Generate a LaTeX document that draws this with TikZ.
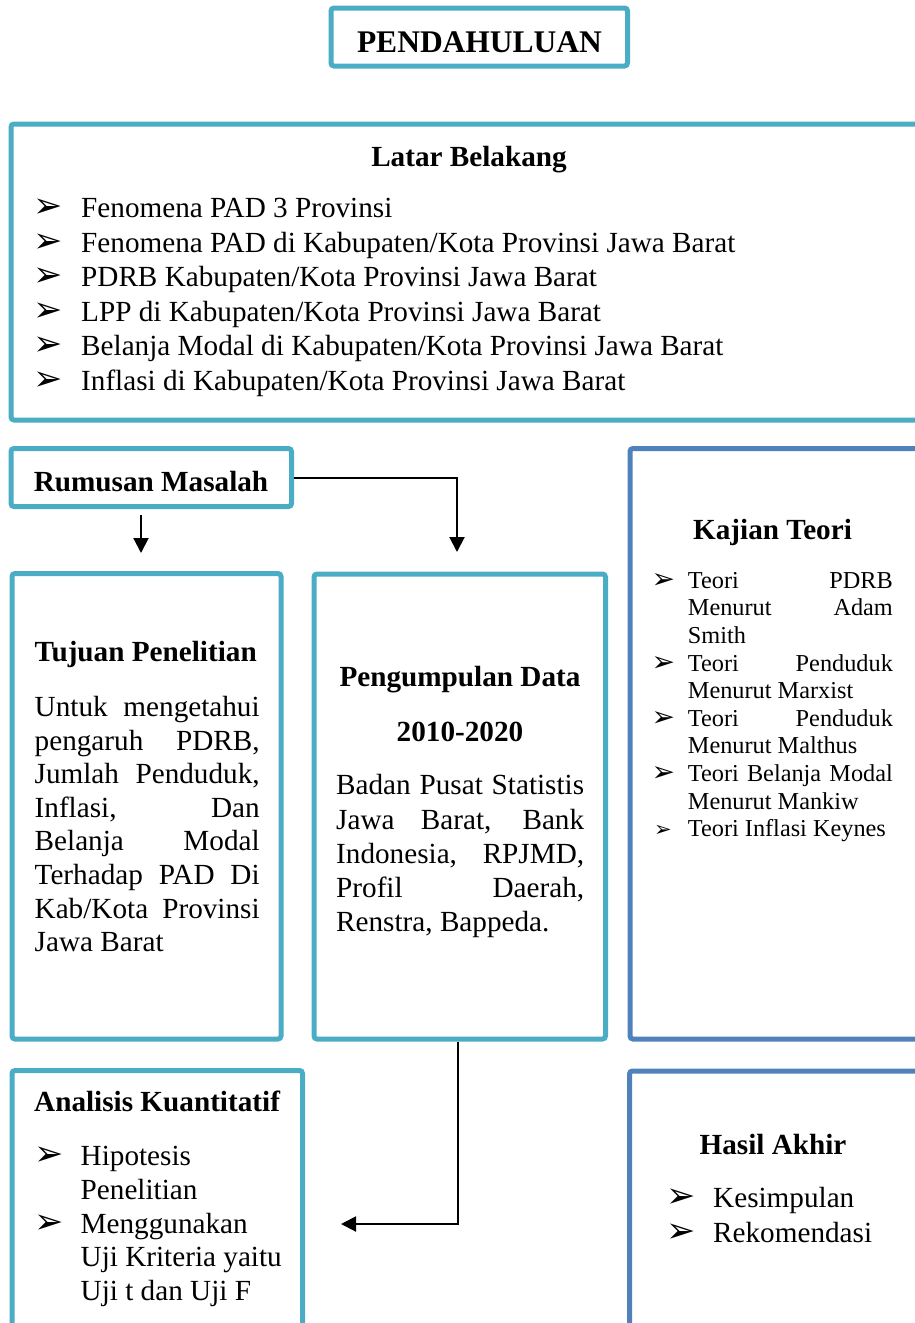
\documentclass[tikz,border=0pt]{standalone}
\usepackage{fontspec}
\setmainfont{Liberation Serif}
\newfontfamily\dvfont{DejaVu Sans}
\usetikzlibrary{arrows.meta}
\definecolor{lblue}{HTML}{4BACC6}
\definecolor{dblue}{HTML}{4F81BD}
\newcommand\bodyf{\fontsize{29.2pt}{34pt}\selectfont}
\newcommand\smallf{\fontsize{24.3pt}{28pt}\selectfont}
\newcommand\titlef{\fontsize{31.5pt}{36pt}\selectfont}
\newcommand\bulA{{\dvfont\fontsize{35pt}{35pt}\selectfont ➢}}
\newcommand\bulB{{\dvfont\fontsize{28pt}{28pt}\selectfont ➢}}
\newcommand\bulC{{\dvfont\fontsize{21pt}{21pt}\selectfont ➢}}
\newcommand\jl[2]{\makebox[#1pt][s]{#2}}
\tikzset{
  lbox/.style={draw=lblue, line width=5pt, rounded corners=3pt, inner sep=0pt, outer sep=0pt, anchor=north west},
  dbox/.style={lbox, draw=dblue},
  txt/.style={inner sep=0pt, anchor=base west, font=\bodyf},
  stxt/.style={inner sep=0pt, anchor=base west, font=\smallf},
  head/.style={inner sep=0pt, anchor=base, font=\bodyf\bfseries},
  lhead/.style={inner sep=0pt, anchor=base west, font=\bodyf\bfseries},
  bul/.style={inner sep=0pt, anchor=base west},
  arr/.style={line width=2pt, -{Triangle[length=15pt,width=15pt]}}
}
\begin{document}
\begin{tikzpicture}[x=1pt,y=-1pt]
\useasboundingbox (0,0) rectangle (915,1323);
% boxes
\node[lbox, minimum width=296.5pt, minimum height=58pt] (pend) at (331,8) {};
\node[lbox, minimum width=930pt, minimum height=296pt] (latar) at (11,124) {};
\node[lbox, minimum width=280.5pt, minimum height=58pt] (rum) at (11,448.5) {};
\node[lbox, minimum width=269pt, minimum height=465.5pt] (tuj) at (12,573.5) {};
\node[lbox, minimum width=291.5pt, minimum height=465pt] (peng) at (314,574) {};
\node[dbox, minimum width=300pt, minimum height=590.5pt] (kaj) at (630,448.5) {};
\node[lbox, minimum width=290.5pt, minimum height=300pt] (anal) at (12,1070.5) {};
\node[dbox, minimum width=300pt, minimum height=300pt] (hasil) at (629.5,1071) {};

\begin{scope}[yshift=-1.5pt]
% PENDAHULUAN
\node[inner sep=0pt, anchor=base, font=\titlef\bfseries] (pendt) at (479.5,51) {PENDAHULUAN};

% Latar Belakang
\node[head] (lbh) at (469,164.5) {Latar Belakang};
\node[bul] (lbb1) at (33,216) {\bulA};
\node[txt] (lb1) at (81,216) {Fenomena PAD 3 Provinsi};
\node[bul] (lbb2) at (33,250.5) {\bulA};
\node[txt] (lb2) at (81,250.5) {Fenomena PAD di Kabupaten/Kota Provinsi Jawa Barat};
\node[bul] (lbb3) at (33,285) {\bulA};
\node[txt] (lb3) at (81,285) {PDRB Kabupaten/Kota Provinsi Jawa Barat};
\node[bul] (lbb4) at (33,319.5) {\bulA};
\node[txt] (lb4) at (81,319.5) {LPP di Kabupaten/Kota Provinsi Jawa Barat};
\node[bul] (lbb5) at (33,354) {\bulA};
\node[txt] (lb5) at (81,354) {Belanja Modal di Kabupaten/Kota Provinsi Jawa Barat};
\node[bul] (lbb6) at (33,388.5) {\bulA};
\node[txt] (lb6) at (81,388.5) {Inflasi di Kabupaten/Kota Provinsi Jawa Barat};

% Rumusan Masalah
\node[head] (rumt) at (151,489.5) {Rumusan Masalah};

% Tujuan Penelitian
\node[lhead] (tujh) at (34.5,660) {Tujuan Penelitian};
\node[txt] (tj1) at (34.5,715) {\jl{225}{Untuk mengetahui}};
\node[txt] (tj2) at (34.5,748.6) {\jl{225}{pengaruh PDRB,}};
\node[txt] (tj3) at (34.5,782.2) {\jl{225}{Jumlah Penduduk,}};
\node[txt] (tj4) at (34.5,815.8) {\jl{225}{Inflasi, Dan}};
\node[txt] (tj5) at (34.5,849.4) {\jl{225}{Belanja Modal}};
\node[txt] (tj6) at (34.5,883) {\jl{225}{Terhadap PAD Di}};
\node[txt] (tj7) at (34.5,916.6) {\jl{225}{Kab/Kota Provinsi}};
\node[txt] (tj8) at (34.5,950) {Jawa Barat};

% Pengumpulan Data
\node[head] (pgh1) at (460,685) {Pengumpulan Data};
\node[head] (pgh2) at (460,740) {2010-2020};
\node[txt] (pg1) at (336,793.3) {\jl{248}{Badan Pusat Statistis}};
\node[txt] (pg2) at (336,827.5) {\jl{248}{Jawa Barat, Bank}};
\node[txt] (pg3) at (336,861.7) {\jl{248}{Indonesia, RPJMD,}};
\node[txt] (pg4) at (336,895.9) {\jl{248}{Profil Daerah,}};
\node[txt] (pg5) at (336,930) {Renstra, Bappeda.};

% Kajian Teori
\node[head] (kjh) at (772.5,538) {Kajian Teori};
\node[bul] (kjb1) at (651.5,586.7) {\bulB};
\node[stxt] (kj1) at (687.7,586.7) {\jl{205}{Teori PDRB}};
\node[stxt] (kj2) at (687.7,614.3) {\jl{205}{Menurut Adam}};
\node[stxt] (kj3) at (687.7,641.9) {Smith};
\node[bul] (kjb2) at (651.5,669.5) {\bulB};
\node[stxt] (kj4) at (687.7,669.5) {\jl{205}{Teori Penduduk}};
\node[stxt] (kj5) at (687.7,697.1) {Menurut Marxist};
\node[bul] (kjb3) at (651.5,724.7) {\bulB};
\node[stxt] (kj6) at (687.7,724.7) {\jl{205}{Teori Penduduk}};
\node[stxt] (kj7) at (687.7,752.3) {Menurut Malthus};
\node[bul] (kjb4) at (651.5,779.9) {\bulB};
\node[stxt] (kj8) at (687.7,779.9) {\jl{205}{Teori Belanja Modal}};
\node[stxt] (kj9) at (687.7,807.5) {Menurut Mankiw};
\node[bul] (kjb5) at (654,835) {\bulC};
\node[stxt] (kj10) at (687.7,835) {Teori Inflasi Keynes};

% Analisis Kuantitatif
\node[lhead] (anh) at (34,1110) {Analisis Kuantitatif};
\node[bul] (anb1) at (34,1164) {\bulA};
\node[txt] (an1) at (80.5,1164) {Hipotesis};
\node[txt] (an2) at (80.5,1197.7) {Penelitian};
\node[bul] (anb2) at (34,1231.5) {\bulA};
\node[txt] (an3) at (80.5,1231.5) {Menggunakan};
\node[txt] (an4) at (80.5,1265) {Uji Kriteria yaitu};
\node[txt] (an5) at (80.5,1298.5) {Uji t dan Uji F};

% Hasil Akhir
\node[head] (hah) at (773,1152.7) {Hasil Akhir};
\node[bul] (hab1) at (666,1206) {\bulA};
\node[txt] (ha1) at (713,1206) {Kesimpulan};
\node[bul] (hab2) at (666,1241) {\bulA};
\node[txt] (ha2) at (713,1241) {Rekomendasi};
\end{scope}

% connectors
\coordinate (a1s) at (141,515);
\coordinate (a1e) at (141,553);
\coordinate (a2e) at (457,552);
\coordinate (a3e) at (341,1224);
\draw[arr] (a1s) -- (a1e);
\draw[arr] ([xshift=2.5pt]rum.east) -| (a2e);
\draw[arr] ([yshift=-2.5pt]peng.south -| 458,0) |- (a3e);
\end{tikzpicture}
\end{document}
